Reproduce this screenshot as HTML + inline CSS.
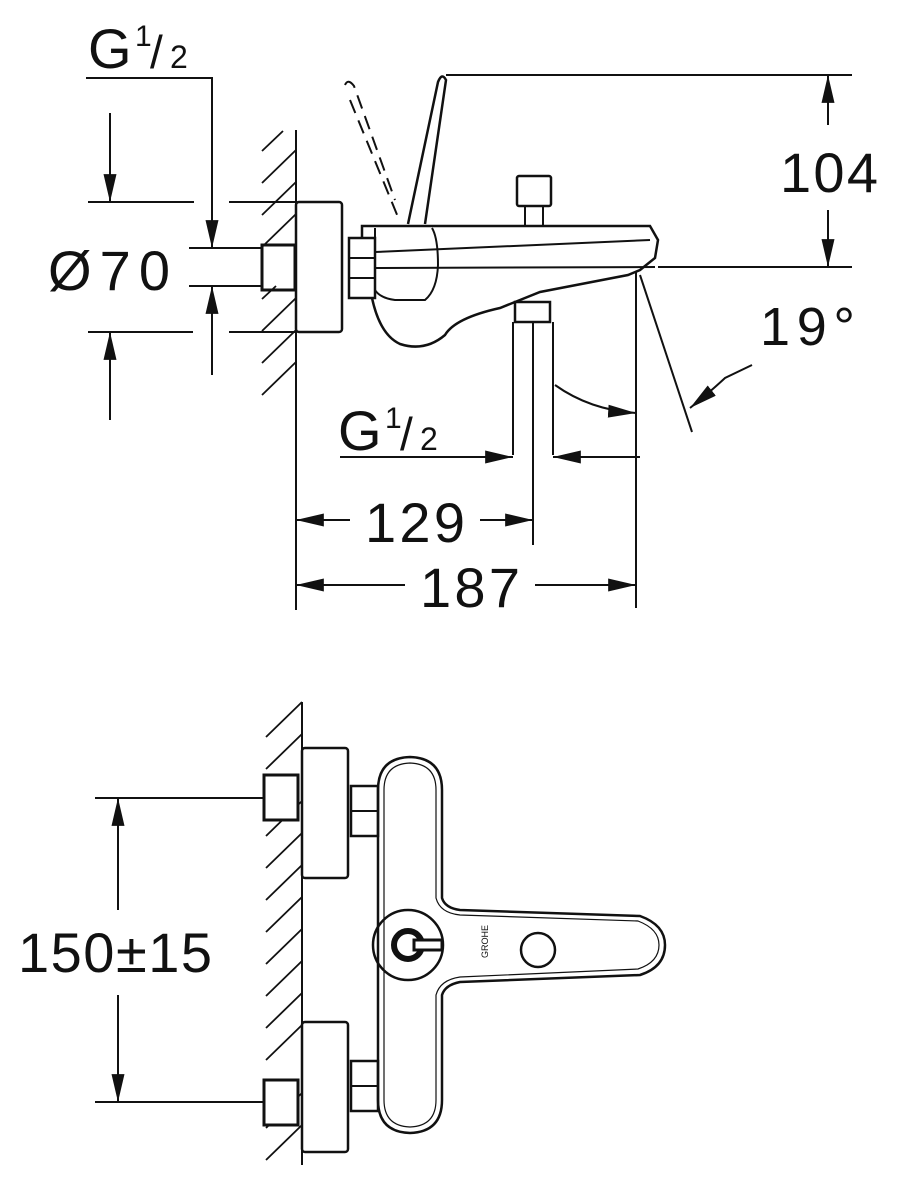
<!DOCTYPE html>
<html><head><meta charset="utf-8"><style>
html,body{margin:0;padding:0;background:#fff;}
svg{display:block;}
text{font-family:"Liberation Sans",sans-serif;fill:#111;}
</style></head><body>
<svg width="900" height="1200" viewBox="0 0 900 1200" xmlns="http://www.w3.org/2000/svg">
<defs>
<marker id="a" viewBox="0 0 30 14" refX="30" refY="7" markerWidth="28" markerHeight="13" markerUnits="userSpaceOnUse" orient="auto">
<path d="M0,0 L30,7 L0,14 Z" fill="#111"/></marker>
</defs>
<g stroke="#111" fill="none" stroke-width="2">
<line x1="296" y1="130" x2="296" y2="610"/>
<g stroke-width="1.8">
<line x1="262" y1="151" x2="283" y2="131"/>
<line x1="262" y1="183" x2="296" y2="150"/>
<line x1="262" y1="215" x2="296" y2="182"/>
<line x1="262" y1="247" x2="296" y2="214"/>
<line x1="262" y1="299" x2="276" y2="286"/>
<line x1="262" y1="331" x2="296" y2="298"/>
<line x1="262" y1="363" x2="296" y2="330"/>
<line x1="262" y1="395" x2="296" y2="362"/>
</g>
<rect x="296" y="202" width="46" height="130" rx="3" stroke-width="2.5"/>
<rect x="262" y="245" width="33" height="45" stroke-width="3"/>
<line x1="88" y1="202" x2="194" y2="202"/><line x1="229" y1="202" x2="296" y2="202"/>
<line x1="88" y1="332" x2="193" y2="332"/><line x1="229" y1="332" x2="296" y2="332"/>
<line x1="189" y1="248" x2="262" y2="248"/>
<line x1="189" y1="286" x2="262" y2="286"/>
<line x1="110" y1="113" x2="110" y2="202" marker-end="url(#a)"/>
<line x1="110" y1="420" x2="110" y2="332" marker-end="url(#a)"/>
<polyline points="86,78 212,78 212,248" marker-end="url(#a)"/>
<line x1="212" y1="375" x2="212" y2="286" marker-end="url(#a)"/>
<rect x="349" y="238" width="26" height="60" stroke-width="2.5"/>
<line x1="349" y1="258" x2="375" y2="258"/><line x1="349" y1="278" x2="375" y2="278"/>
<path d="M362,238 L362,226 L650,226 L658,240 L655,258 L640,270 L628,275 L540,292 L520,300 L500,308 Q455,318 445,335 Q425,352 400,344 Q380,335 372,298" stroke-width="2.5"/>
<path d="M375,228 L375,290 Q380,298 395,300 L425,300 Q437,290 438,265 Q438,238 432,228"/>
<line x1="375" y1="252" x2="650" y2="240"/>
<line x1="375" y1="268" x2="655" y2="267"/>
<path d="M408,224 L438,82 Q442,72 446,80 L425,224" stroke-width="2.5"/>
<path d="M345,85 Q348,78 354,86 L395,200 M350,100 L400,222" stroke-dasharray="14,8"/>
<rect x="517" y="176" width="34" height="30" rx="2" stroke-width="2.5"/>
<rect x="525" y="206" width="18" height="20"/>
<rect x="515" y="302" width="35" height="20" stroke-width="2.5"/>
<line x1="513" y1="322" x2="513" y2="455"/>
<line x1="533" y1="322" x2="533" y2="545"/>
<line x1="553" y1="322" x2="553" y2="455"/>
<line x1="446" y1="75" x2="852" y2="75"/>
<line x1="658" y1="267" x2="852" y2="267"/>
<line x1="828" y1="125" x2="828" y2="75" marker-end="url(#a)"/>
<line x1="828" y1="210" x2="828" y2="267" marker-end="url(#a)"/>
<line x1="636" y1="272" x2="636" y2="608"/>
<line x1="640" y1="275" x2="692" y2="432"/>
<path d="M555,385 Q590,410 636,413" marker-end="url(#a)"/>
<path d="M752,365 L725,378 Q710,392 690,408" marker-end="url(#a)"/>
<line x1="340" y1="457" x2="513" y2="457" marker-end="url(#a)"/>
<line x1="640" y1="457" x2="553" y2="457" marker-end="url(#a)"/>
<line x1="350" y1="520" x2="296" y2="520" marker-end="url(#a)"/>
<line x1="480" y1="520" x2="533" y2="520" marker-end="url(#a)"/>
<line x1="405" y1="585" x2="296" y2="585" marker-end="url(#a)"/>
<line x1="535" y1="585" x2="636" y2="585" marker-end="url(#a)"/>

<line x1="302" y1="702" x2="302" y2="1165"/>
<g stroke-width="1.8">
<line x1="266" y1="737" x2="302" y2="702"/>
<line x1="266" y1="769" x2="302" y2="734"/>
<line x1="266" y1="836" x2="302" y2="801"/>
<line x1="266" y1="868" x2="302" y2="833"/>
<line x1="266" y1="900" x2="302" y2="865"/>
<line x1="266" y1="932" x2="302" y2="897"/>
<line x1="266" y1="964" x2="302" y2="929"/>
<line x1="266" y1="996" x2="302" y2="961"/>
<line x1="266" y1="1028" x2="302" y2="993"/>
<line x1="266" y1="1060" x2="302" y2="1025"/>
<line x1="266" y1="1128" x2="302" y2="1093"/>
<line x1="266" y1="1160" x2="302" y2="1125"/>
</g>
<rect x="302" y="748" width="46" height="130" rx="3" stroke-width="2.5"/>
<rect x="302" y="1022" width="46" height="130" rx="3" stroke-width="2.5"/>
<rect x="264" y="775" width="34" height="45" stroke-width="3" fill="#fff"/>
<rect x="264" y="1080" width="34" height="45" stroke-width="3" fill="#fff"/>
<rect x="351" y="786" width="27" height="50" stroke-width="2.5"/>
<line x1="351" y1="811" x2="378" y2="811"/>
<rect x="351" y="1061" width="27" height="50" stroke-width="2.5"/>
<line x1="351" y1="1086" x2="378" y2="1086"/>
<path d="M378,790 Q378,758 410,757 Q442,758 442,790 L442,898 Q445,908 460,910 L640,916 Q665,925 665,945 Q665,967 640,975 L460,982 Q445,985 442,995 L442,1100 Q442,1132 410,1133 Q378,1132 378,1100 Z" stroke-width="2.5"/>
<path d="M384,790 Q384,764 410,763 Q436,764 436,790 L436,898 Q440,913 460,915 L638,921 Q659,929 659,945 Q659,962 638,969 L460,977 Q440,980 436,995 L436,1100 Q436,1126 410,1127 Q384,1126 384,1100 Z" stroke-width="1.2"/>
<circle cx="408" cy="945" r="35" stroke-width="2.5"/>
<circle cx="408" cy="945" r="14" stroke-width="6"/>
<rect x="414" y="940" width="28" height="10" fill="#fff" stroke-width="3"/>
<circle cx="538" cy="950" r="17" stroke-width="2.5"/>
<line x1="95" y1="798" x2="264" y2="798"/>
<line x1="95" y1="1102" x2="264" y2="1102"/>
<line x1="118" y1="910" x2="118" y2="798" marker-end="url(#a)"/>
<line x1="118" y1="995" x2="118" y2="1102" marker-end="url(#a)"/>
</g>
<text x="476" y="958" font-size="9" transform="rotate(-90 482 952)">GROHE</text>
<text x="88" y="68" font-size="56">G</text><text x="135" y="46" font-size="30">1</text><text x="150" y="68" font-size="46">/</text><text x="170" y="68" font-size="32">2</text>
<text x="48" y="290" font-size="56" textLength="122" lengthAdjust="spacing">Ø70</text>
<text x="780" y="192" font-size="56" textLength="98" lengthAdjust="spacing">104</text>
<text x="760" y="345" font-size="54" textLength="95" lengthAdjust="spacing">19°</text>
<text x="338" y="450" font-size="56">G</text><text x="385" y="428" font-size="30">1</text><text x="400" y="450" font-size="46">/</text><text x="420" y="450" font-size="32">2</text>
<text x="365" y="542" font-size="56" textLength="100" lengthAdjust="spacing">129</text>
<text x="420" y="607" font-size="56" textLength="100" lengthAdjust="spacing">187</text>
<text x="18" y="972" font-size="56" textLength="194" lengthAdjust="spacing">150±15</text>
</svg>
</body></html>
